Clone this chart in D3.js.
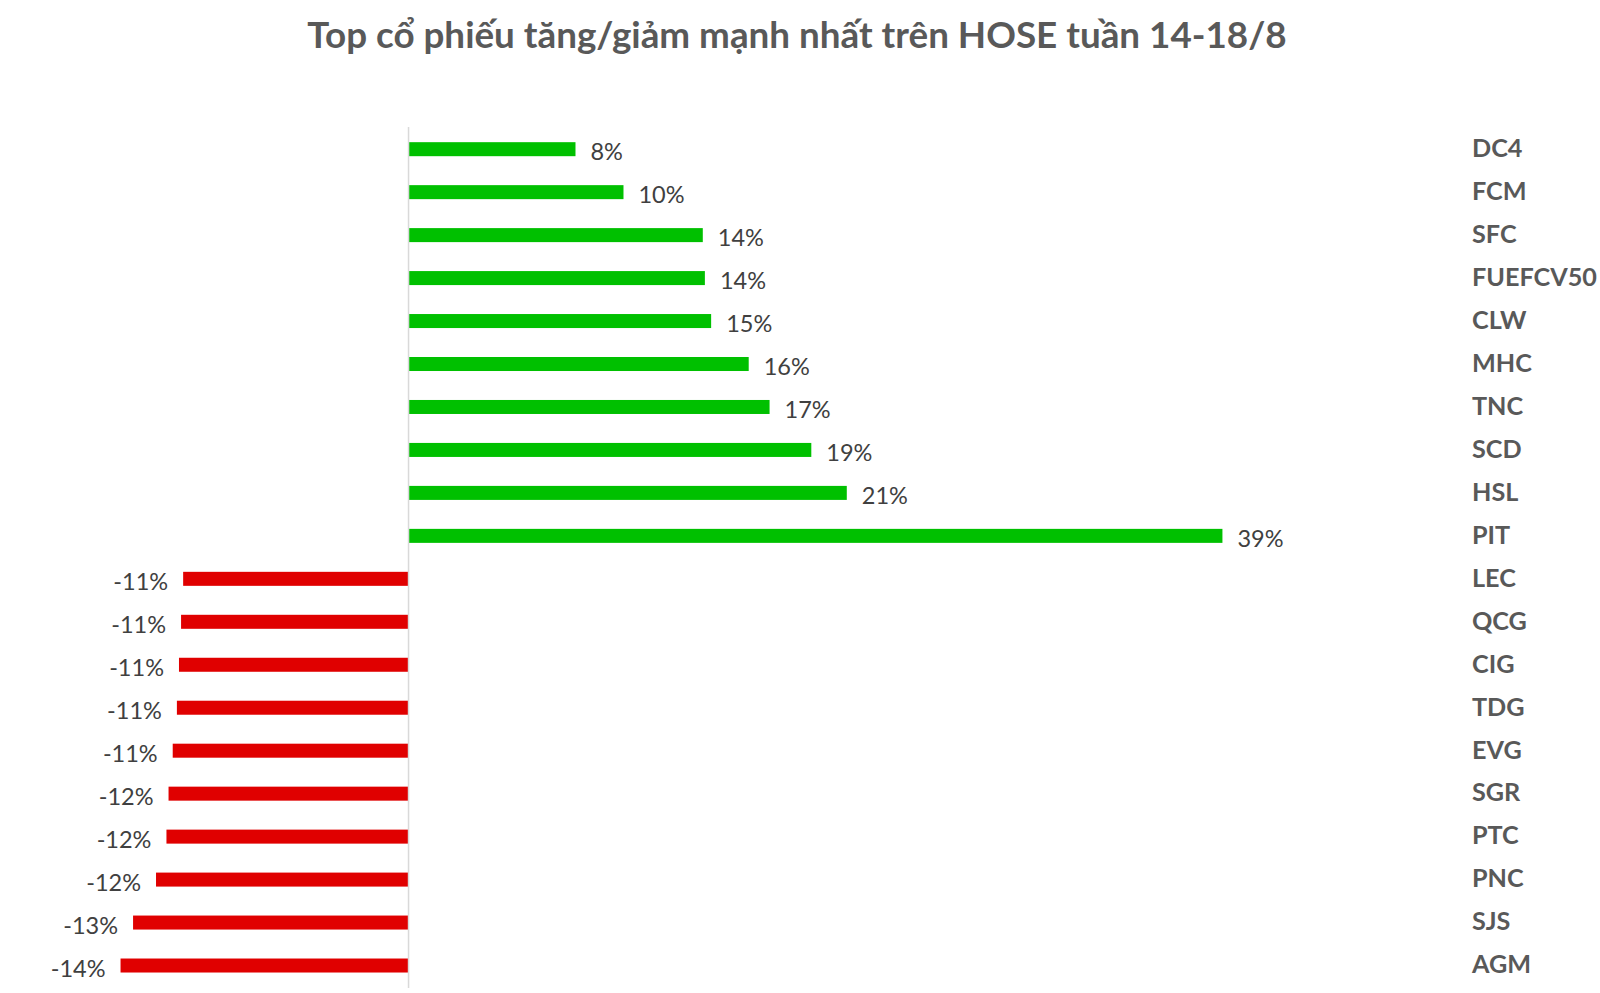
<!DOCTYPE html>
<html>
<head>
<meta charset="utf-8">
<script src="https://cdn.jsdelivr.net/npm/d3@7"></script>
<style>
  html, body { margin: 0; padding: 0; background: #fff; }
  svg { display: block; }
</style>
</head>
<body>
<svg id="chart" width="1600" height="993"></svg>
<script>
const categories = ["DC4","FCM","SFC","FUEFCV50","CLW","MHC","TNC","SCD","HSL","PIT",
                    "LEC","QCG","CIG","TDG","EVG","SGR","PTC","PNC","SJS","AGM"];
const values = [8.0, 10.3, 14.1, 14.2, 14.5, 16.3, 17.3, 19.3, 21.0, 39.0,
                -10.8, -10.9, -11.0, -11.1, -11.3, -11.5, -11.6, -12.1, -13.2, -13.8];
const valueLabels = ["8%","10%","14%","14%","15%","16%","17%","19%","21%","39%",
                     "-11%","-11%","-11%","-11%","-11%","-12%","-12%","-12%","-13%","-14%"];
const title = "Top cổ phiếu tăng/giảm mạnh nhất trên HOSE tuần 14-18/8";

const svg = d3.select("#chart");
const font = "Lato, 'Open Sans', sans-serif";

const x = d3.scaleLinear().domain([-15, 40]).range([95.5, 1243.3]);
const y = d3.scaleBand().domain(categories).range([127.7, 987.0])
  .paddingInner(0.674).paddingOuter(0.337);

const data = categories.map((c, i) => ({ c, v: values[i], l: valueLabels[i] }));

svg.append("text")
  .attr("x", 797).attr("y", 48)
  .attr("text-anchor", "middle")
  .attr("font-family", font).attr("font-weight", 700)
  .attr("font-size", 36.8).attr("fill", "#595959")
  .text(title);

svg.selectAll("rect.bar").data(data).join("rect")
  .attr("class", "bar")
  .attr("x", d => x(Math.min(0, d.v)))
  .attr("width", d => Math.abs(x(d.v) - x(0)))
  .attr("y", d => y(d.c))
  .attr("height", y.bandwidth())
  .attr("fill", d => d.v >= 0 ? "#00C000" : "#E00000");

svg.append("line")
  .attr("x1", x(0)).attr("x2", x(0))
  .attr("y1", 127).attr("y2", 988)
  .attr("stroke", "#d9d9d9").attr("stroke-width", 1.5);

svg.selectAll("text.val").data(data).join("text")
  .attr("class", "val")
  .attr("x", d => d.v >= 0 ? x(d.v) + 15 : x(d.v) - 15)
  .attr("y", d => y(d.c) + y.bandwidth() / 2 + 3)
  .attr("dy", "0.35em")
  .attr("text-anchor", d => d.v >= 0 ? "start" : "end")
  .attr("font-family", font).attr("font-size", 23.5)
  .attr("fill", "#404040")
  .text(d => d.l);

svg.selectAll("text.cat").data(data).join("text")
  .attr("class", "cat")
  .attr("x", 1472)
  .attr("y", d => y(d.c) + y.bandwidth() / 2 - 1)
  .attr("dy", "0.35em")
  .attr("font-family", font).attr("font-weight", 700).attr("font-size", 25.2)
  .attr("fill", "#595959")
  .text(d => d.c);
</script>
</body>
</html>
